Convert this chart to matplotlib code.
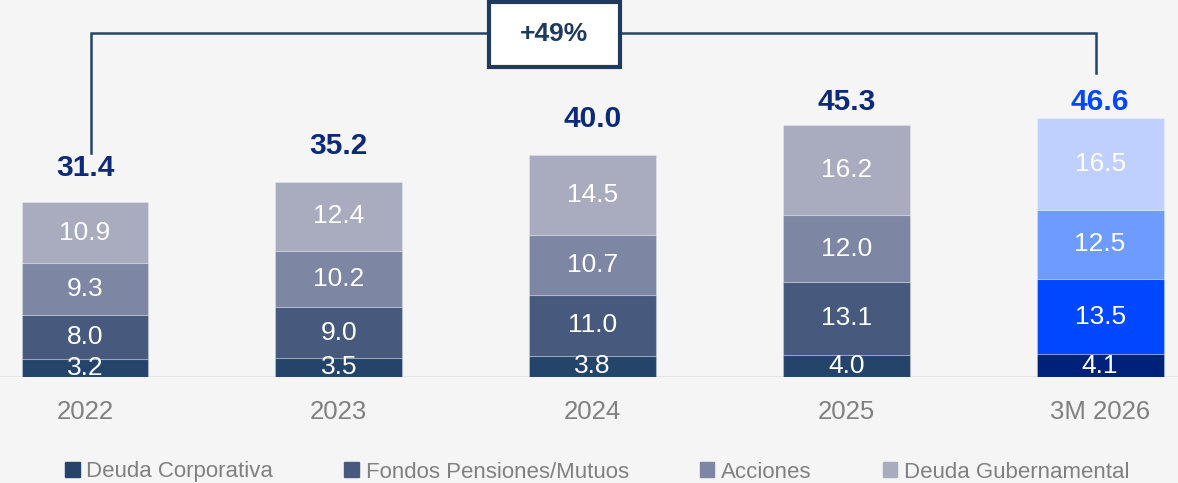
import numpy as np
import matplotlib.pyplot as plt
from matplotlib.patches import Rectangle

plt.rcParams['font.family'] = ['Liberation Sans', 'DejaVu Sans']

categories = ['2022', '2023', '2024', '2025', '3M 2026']
series_names = ['Deuda Corporativa', 'Fondos Pensiones/Mutuos', 'Acciones', 'Deuda Gubernamental']
corporativa = [3.2, 3.5, 3.8, 4.0, 4.1]
fondos = [8.0, 9.0, 11.0, 13.1, 13.5]
acciones = [9.3, 10.2, 10.7, 12.0, 12.5]
gubernamental = [10.9, 12.4, 14.5, 16.2, 16.5]
totals = [31.4, 35.2, 40.0, 45.3, 46.6]
growth_label = '+49%'

colors_hist = ['#24446A', '#475A7E', '#7D86A2', '#A9ABBE']
colors_last = ['#002179', '#0047FF', '#6E9BFF', '#BFD0FF']
# gap (points) between bar top and total label baseline
label_gap = [19, 19.5, 19.5, 11, 6]

fig = plt.figure(figsize=(11.78, 4.83), dpi=100)
fig.patch.set_facecolor('#F5F5F5')
ax = fig.add_axes([0, 106 / 483, 1, 377 / 483])
ax.set_facecolor('none')

x = np.arange(len(categories))
data = [corporativa, fondos, acciones, gubernamental]
bottom = np.zeros(len(categories))
handles = []
for i, vals in enumerate(data):
    cols = [colors_hist[i]] * (len(categories) - 1) + [colors_last[i]]
    bars = ax.bar(x, vals, width=0.5, bottom=bottom, color=cols,
                  edgecolor=(1, 1, 1, 0.25), linewidth=0.8, label=series_names[i])
    handles.append(Rectangle((0, 0), 1, 1, color=colors_hist[i]))
    for xi, v, b in zip(x, vals, bottom):
        ax.text(xi, b + v / 2, f'{v:.1f}', ha='center', va='center',
                color='white', fontsize=19, clip_on=True)
    bottom += np.array(vals)

for xi, t, g in zip(x, totals, label_gap):
    c = '#0047FF' if xi == len(categories) - 1 else '#0D2A7A'
    ax.annotate(f'{t:.1f}', (xi, t), xytext=(0, g), textcoords='offset points',
                ha='center', va='baseline', color=c, fontsize=21.5, fontweight='bold')

ax.set_xlim(-0.335, 4.307)
ax.set_ylim(0, 67.8)
ax.axis('off')
ax.axhline(0, color='#E2E2E2', linewidth=1.2, zorder=0)

# year labels
for xi, c in zip(x, categories):
    fig.text((xi + 0.335) / 4.642, 1 - 412 / 483, c, ha='center', va='center',
             color='#808080', fontsize=18.5)

# growth bracket
lc = '#24446A'
ax.plot([0.024, 0.024, 3.984, 3.984], [40.3, 61.9, 61.9, 54.7],
        color=lc, linewidth=1.8, solid_joinstyle='miter', clip_on=False)
bw, bh = 0.516, 11.7
bx, by = 1.85, 61.6
ax.add_patch(Rectangle((bx - bw / 2, by - bh / 2), bw, bh, facecolor='white',
                       edgecolor='#1F3A5C', linewidth=3, clip_on=False, zorder=3))
ax.text(bx, by, growth_label, ha='center', va='center', fontsize=19,
        fontweight='bold', color='#1F3A5C', zorder=4)

fig.legend(handles, series_names, loc='center', bbox_to_anchor=(0.507, 1 - 472 / 483),
           ncol=4, frameon=False, fontsize=16, handlelength=0.65, handleheight=0.65,
           handletextpad=0.3, columnspacing=3.2, labelcolor='#808080')

fig.savefig('out.png', dpi=100, facecolor=fig.get_facecolor())
